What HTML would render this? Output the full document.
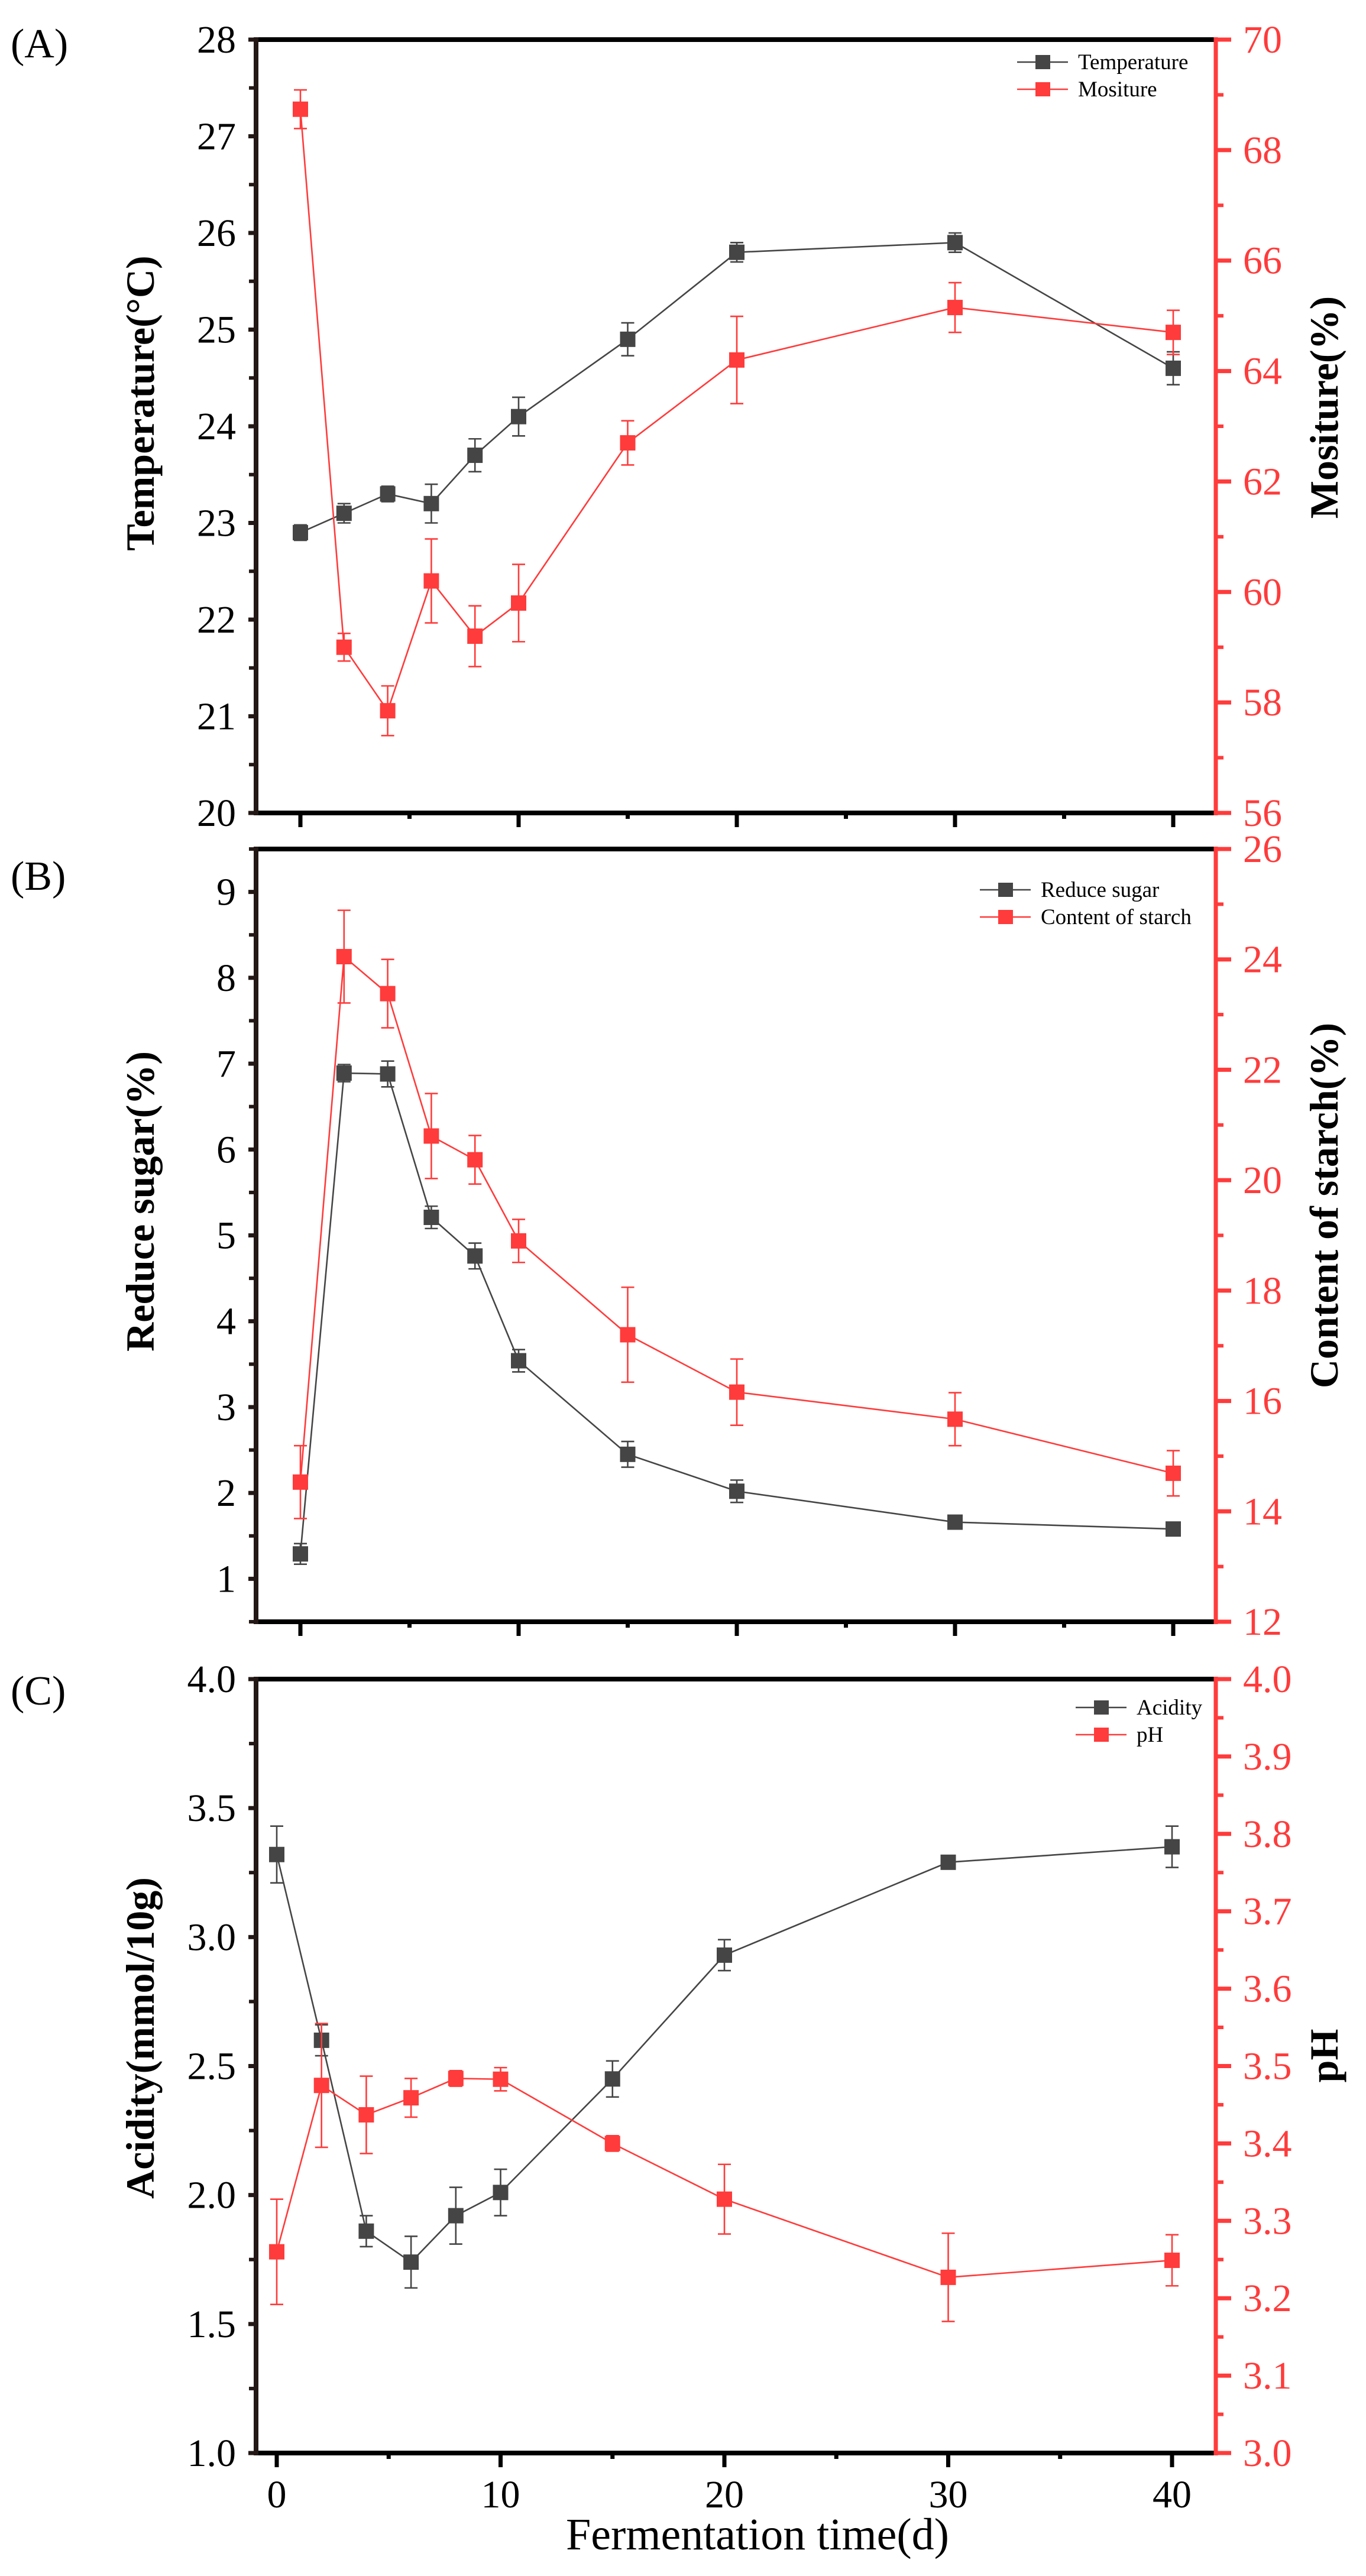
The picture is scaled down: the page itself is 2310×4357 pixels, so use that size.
<!DOCTYPE html>
<html><head><meta charset="utf-8"><style>
html,body{margin:0;padding:0;background:#fff;}
svg{display:block;}
</style></head>
<body>
<svg id="chart" width="2310" height="4357" viewBox="0 0 2310 4357" xmlns="http://www.w3.org/2000/svg" font-family="'Liberation Serif', 'Times New Roman', serif"></svg>
<script>
// ---- shared categories ----
const days = [0, 2, 4, 6, 8, 10, 15, 20, 30, 40];
// ---- Panel A ----
const temperature = [22.9, 23.1, 23.3, 23.2, 23.7, 24.1, 24.9, 25.8, 25.9, 24.6];
const temperatureErr = [0.08, 0.1, 0.08, 0.2, 0.17, 0.2, 0.17, 0.1, 0.1, 0.17];
const moisture = [68.74, 59.0, 57.85, 60.2, 59.2, 59.8, 62.7, 64.2, 65.15, 64.7];
const moistureErr = [0.35, 0.25, 0.45, 0.76, 0.55, 0.7, 0.4, 0.79, 0.45, 0.4];
const tickLabelsA_left = ["20","21","22","23","24","25","26","27","28"];
const tickLabelsA_right = ["56","58","60","62","64","66","68","70"];
// ---- Panel B ----
const reduceSugar = [1.29, 6.89, 6.88, 5.21, 4.76, 3.54, 2.45, 2.02, 1.66, 1.58];
const reduceSugarErr = [0.12, 0.1, 0.15, 0.13, 0.15, 0.13, 0.15, 0.13, 0.07, 0.05];
const starch = [14.53, 24.05, 23.38, 20.8, 20.37, 18.9, 17.2, 16.16, 15.67, 14.69];
const starchErr = [0.66, 0.84, 0.62, 0.77, 0.44, 0.39, 0.86, 0.6, 0.48, 0.41];
const tickLabelsB_left = ["1","2","3","4","5","6","7","8","9"];
const tickLabelsB_right = ["12","14","16","18","20","22","24","26"];
// ---- Panel C ----
const acidity = [3.32, 2.6, 1.86, 1.74, 1.92, 2.01, 2.45, 2.93, 3.29, 3.35];
const acidityErr = [0.11, 0.06, 0.06, 0.1, 0.11, 0.09, 0.07, 0.06, 0.02, 0.08];
const pH = [3.26, 3.475, 3.437, 3.459, 3.484, 3.483, 3.40, 3.328, 3.227, 3.249];
const pHErr = [0.068, 0.08, 0.05, 0.025, 0.01, 0.015, 0.01, 0.045, 0.057, 0.033];
const tickLabelsC_left = ["1.0","1.5","2.0","2.5","3.0","3.5","4.0"];
const tickLabelsC_right = ["3.0","3.1","3.2","3.3","3.4","3.5","3.6","3.7","3.8","3.9","4.0"];
const tickLabelsX = ["0","10","20","30","40"];

const NS = "http://www.w3.org/2000/svg";
const svg = document.getElementById("chart");
const SERIF = "Liberation Serif, Times New Roman, serif";
const GRAY = "#454545", RED = "#ff3b3b", AXIS = "#000", LAX = "#231815";
function mk(tag, attrs, parent, text) {
  const e = document.createElementNS(NS, tag);
  for (const k in attrs) e.setAttribute(k, attrs[k]);
  if (tag === "text" && !attrs["font-family"]) e.setAttribute("font-family", SERIF);
  if (text !== undefined) e.textContent = text;
  (parent || svg).appendChild(e);
  return e;
}
const L = 433, R = 2056;

function panel(cfg) {
  const g = mk("g", {});
  
  
  const top = cfg.top, bot = cfg.bot;
  const xs = d => cfg.x0 + (d - 0) * cfg.xk;
  const yl = v => bot - (v - cfg.lmin) / (cfg.lmax - cfg.lmin) * (bot - top);
  const yr = v => bot - (v - cfg.rmin) / (cfg.rmax - cfg.rmin) * (bot - top);
  const fr = mk("path", {d:`M${L},${top}H${R}M${L},${bot}H${R}`, stroke:AXIS, "stroke-width":8, fill:"none"}, g);
  
  
  const la = mk("line", {x1:L, y1:top-4, x2:L, y2:bot+4, stroke:LAX, "stroke-width":8}, g);
  
  
  const ra = mk("line", {x1:R, y1:top-4, x2:R, y2:bot+4, stroke:RED, "stroke-width":7}, g);
  
  
  for (let d = 0; d <= 40; d += 5) {
    const major = d % 10 === 0;
    mk("line", {x1:xs(d), y1:bot, x2:xs(d), y2:bot + (major ? 24 : 10), stroke:AXIS, "stroke-width":7}, g);
  }
  if (cfg.xlabels) {
    tickLabelsX.forEach(t => {
      const tl = mk("text", {x:xs(+t), y:bot+92, "font-size":66, "text-anchor":"middle", fill:"#000"}, g, t);
      
      
    });
  }
  cfg.lLabels.forEach(t => {
    const v = +t;
    mk("line", {x1:L-13, y1:yl(v), x2:L, y2:yl(v), stroke:LAX, "stroke-width":7}, g);
    const tl = mk("text", {x:L-34, y:yl(v)+22, "font-size":66, "text-anchor":"end", fill:"#000"}, g, t);
    
    
  });
  for (let v = cfg.lmin; v <= cfg.lmax + 1e-9; v += cfg.lminor) {
    mk("line", {x1:L-12, y1:yl(v), x2:L, y2:yl(v), stroke:LAX, "stroke-width":6}, g);
  }
  cfg.rLabels.forEach(t => {
    const v = +t;
    mk("line", {x1:R, y1:yr(v), x2:R+26, y2:yr(v), stroke:RED, "stroke-width":7}, g);
    const tl = mk("text", {x:R+46, y:yr(v)+22, "font-size":66, "text-anchor":"start", fill:RED}, g, t);
    
    
  });
  for (let v = cfg.rmin; v <= cfg.rmax + 1e-9; v += cfg.rminor) {
    mk("line", {x1:R, y1:yr(v), x2:R+13, y2:yr(v), stroke:RED, "stroke-width":6}, g);
  }
  function series(vals, errs, y, color, nm) {
    const sg = mk("g", {}, g);
    
    
    const pts = days.map((d, i) => `${xs(d)},${y(vals[i])}`).join(" ");
    mk("polyline", {points:pts, fill:"none", stroke:color, "stroke-width":2.6}, sg);
    days.forEach((d, i) => {
      const x = xs(d), y1 = y(vals[i] + errs[i]), y2 = y(vals[i] - errs[i]);
      mk("path", {d:`M${x},${y1}V${y2}M${x-11},${y1}H${x+11}M${x-11},${y2}H${x+11}`, stroke:color, "stroke-width":2.6, fill:"none"}, sg);
      const m = mk("rect", {x:x-13, y:y(vals[i])-13, width:26, height:26, fill:color}, sg);
      
      
    });
  }
  series(cfg.lv, cfg.le, yl, GRAY, cfg.lname);
  series(cfg.rv, cfg.re, yr, RED, cfg.rname);
  const lg = mk("g", {}, g);
  
  
  [[cfg.leg[0], GRAY, cfg.legY], [cfg.leg[1], RED, cfg.legY + 46]].forEach(([txt, c, y]) => {
    mk("line", {x1:cfg.legX, y1:y, x2:cfg.legX+86, y2:y, stroke:c, "stroke-width":2.6}, lg);
    mk("rect", {x:cfg.legX+31, y:y-12, width:25, height:24, fill:c}, lg);
    const t = mk("text", {x:cfg.legX+103, y:y+12, "font-size":37, fill:"#000"}, lg, txt);
    
    
  });
  const lt = mk("text", {x:0, y:0, transform:`translate(260,${cfg.lty}) rotate(-90)`, "font-size":68, "font-weight":"bold", "text-anchor":"middle", fill:"#000"}, g, cfg.ltitle);
  
  
  const rt = mk("text", {x:0, y:0, transform:`translate(2262,${cfg.rty}) rotate(-90)`, "font-size":68, "font-weight":"bold", "text-anchor":"middle", fill:"#000"}, g, cfg.rtitle);
  
  
  const pl = mk("text", {x:18, y:cfg.plY, "font-size":70, fill:"#000"}, g, cfg.plabel);
  
  
}

panel({name:"panel-a", top:67, bot:1375, x0:508, xk:36.9, lmin:20, lmax:28, lminor:0.5, rmin:56, rmax:70, rminor:1,
  lLabels:tickLabelsA_left, rLabels:tickLabelsA_right, lv:temperature, le:temperatureErr, rv:moisture, re:moistureErr,
  lname:"temperature", rname:"moisture", leg:["Temperature","Mositure"], legX:1720, legY:105,
  ltitle:"Temperature(°C)", rtitle:"Mositure(%)", lty:682, rty:689, plabel:"(A)", plY:97, xlabels:false});
panel({name:"panel-b", top:1436, bot:2743, x0:508, xk:36.9, lmin:0.5, lmax:9.5, lminor:0.5, rmin:12, rmax:26, rminor:1,
  lLabels:tickLabelsB_left, rLabels:tickLabelsB_right, lv:reduceSugar, le:reduceSugarErr, rv:starch, re:starchErr,
  lname:"reduce-sugar", rname:"starch", leg:["Reduce sugar","Content of starch"], legX:1657, legY:1505,
  ltitle:"Reduce sugar(%)", rtitle:"Content of starch(%)", lty:2032, rty:2039, plabel:"(B)", plY:1505, xlabels:false});
panel({name:"panel-c", top:2840, bot:4149, x0:468, xk:37.85, lmin:1, lmax:4, lminor:0.25, rmin:3, rmax:4, rminor:0.05,
  lLabels:tickLabelsC_left, rLabels:tickLabelsC_right, lv:acidity, le:acidityErr, rv:pH, re:pHErr,
  lname:"acidity", rname:"ph", leg:["Acidity","pH"], legX:1819, legY:2888,
  ltitle:"Acidity(mmol/10g)", rtitle:"pH", lty:3447, rty:3477, plabel:"(C)", plY:2883, xlabels:true});

const xt = mk("text", {x:1281, y:4312, "font-size":76, "text-anchor":"middle", fill:"#000"}, svg, "Fermentation time(d)");


</script>
</body></html>
